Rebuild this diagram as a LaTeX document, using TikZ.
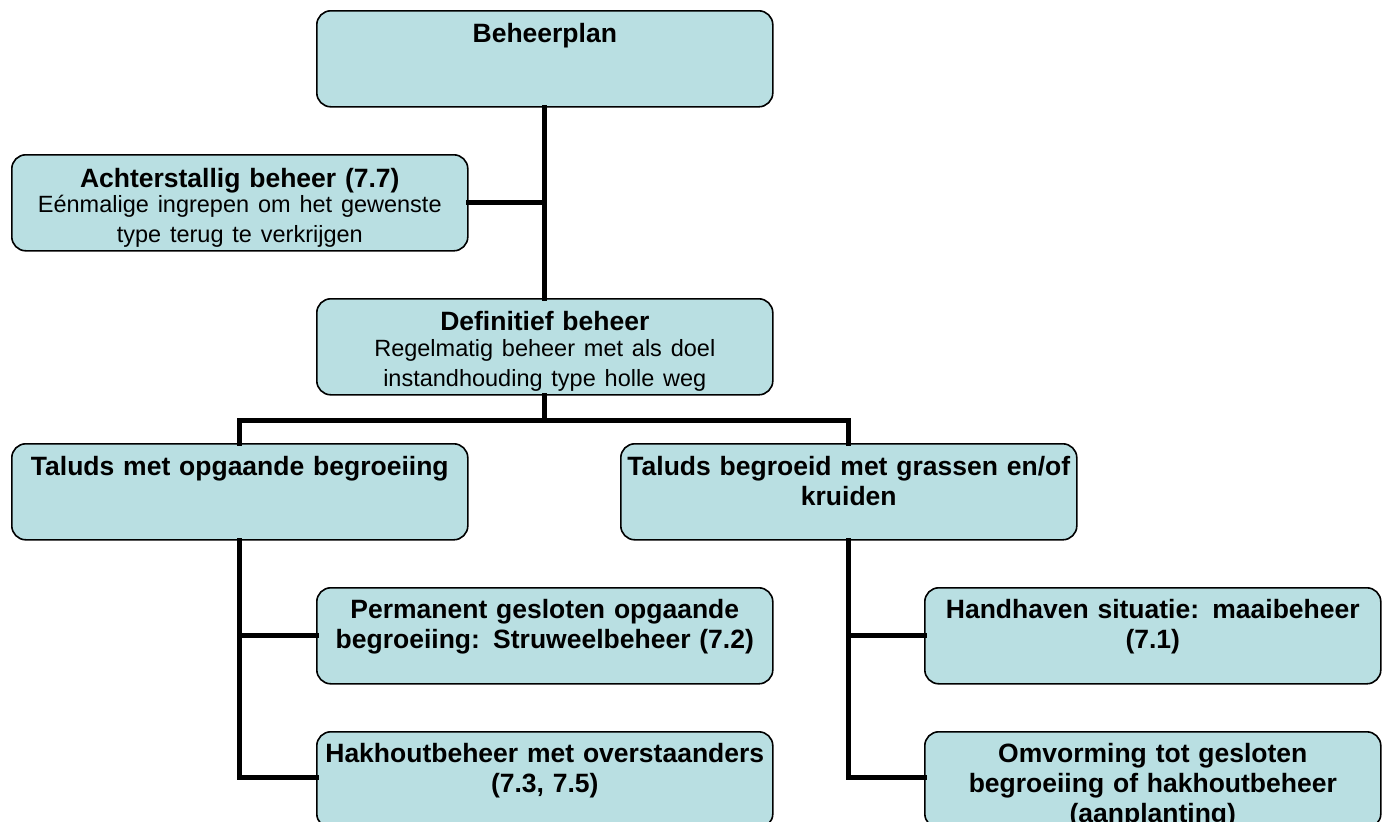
\documentclass[tikz,border=0pt]{standalone}
\usepackage{fontspec}
\setmainfont{Liberation Sans}
\begin{document}
\begin{tikzpicture}[x=1pt,y=-1pt,
  box/.style={draw=black,line width=1.6pt,fill=boxfill,rounded corners=14pt,minimum width=456pt,minimum height=96pt,anchor=north west,inner sep=0pt},
  txt/.style={anchor=north,align=center,font=\fontsize{26.5}{30}\selectfont\bfseries,text width=456pt,inner sep=0pt},
  link/.style={line width=5pt,line cap=rect}]
\definecolor{boxfill}{HTML}{B9DFE2}
\useasboundingbox (0,0) rectangle (1387,822);
\clip (0,0) rectangle (1387,822);
\fill[white] (0,0) rectangle (1387,822);
% boxes
\node[box] (plan) at (316,10) {};
\node[box] (acht) at (11,154) {};
\node[box] (def) at (316,298) {};
\node[box] (opg) at (11,443) {};
\node[box] (gras) at (620,443) {};
\node[box] (perm) at (316,587) {};
\node[box] (hand) at (924,587) {};
\node[box] (hak) at (316,731) {};
\node[box] (omv) at (924,731) {};
% texts
\node[txt] (tplan) at ([yshift=-13pt]plan.north) {Beheerplan};
\node[txt] (tacht) at ([yshift=-14pt]acht.north) {Achterstallig beheer (7.7)\\[-2pt]{\mdseries\fontsize{23.5}{27}\selectfont Eénmalige ingrepen om het gewenste\\type terug te verkrijgen}};
\node[txt] (tdef) at ([yshift=-13pt]def.north) {Definitief beheer\\[-1pt]{\mdseries\fontsize{23.5}{27}\selectfont Regelmatig beheer met als doel\\instandhouding type holle weg}};
\node[txt] (topg) at ([yshift=-13pt]opg.north) {Taluds met opgaande begroeiing};
\node[txt] (tgras) at ([yshift=-13pt]gras.north) {Taluds begroeid met grassen en/of\\kruiden};
\node[txt] (tperm) at ([yshift=-12pt]perm.north) {Permanent gesloten opgaande\\begroeiing: Struweelbeheer (7.2)};
\node[txt] (thand) at ([yshift=-12pt]hand.north) {Handhaven situatie: maaibeheer\\(7.1)};
\node[txt] (thak) at ([yshift=-12pt]hak.north) {Hakhoutbeheer met overstaanders\\(7.3, 7.5)};
\node[txt] (tomv) at ([yshift=-12pt]omv.north) {Omvorming tot gesloten\\begroeiing of hakhoutbeheer\\(aanplanting)};
% connectors
\coordinate (j1) at (plan.south |- 0,202);
\coordinate (j2) at (def.south |- 0,420);
\coordinate (jl) at (opg.north |- 0,420);
\coordinate (jr) at (gras.north |- 0,420);
\coordinate (l1) at (opg.south |- 0,635);
\coordinate (l2) at (opg.south |- 0,777);
\coordinate (r1) at (gras.south |- 0,635);
\coordinate (r2) at (gras.south |- 0,777);
\draw[link] (plan.south) -- (def.north);
\draw[link] (acht.east |- j1) -- (j1);
\draw[link] (def.south) -- (j2);
\draw[link] (jl) -- (jr);
\draw[link] (jl) -- (opg.north);
\draw[link] (jr) -- (gras.north);
\draw[link] (opg.south) -- (l2) -- (l2 -| hak.west);
\draw[link] (l1) -- (l1 -| perm.west);
\draw[link] (gras.south) -- (r2) -- (r2 -| omv.west);
\draw[link] (r1) -- (r1 -| hand.west);
\end{tikzpicture}
\end{document}
